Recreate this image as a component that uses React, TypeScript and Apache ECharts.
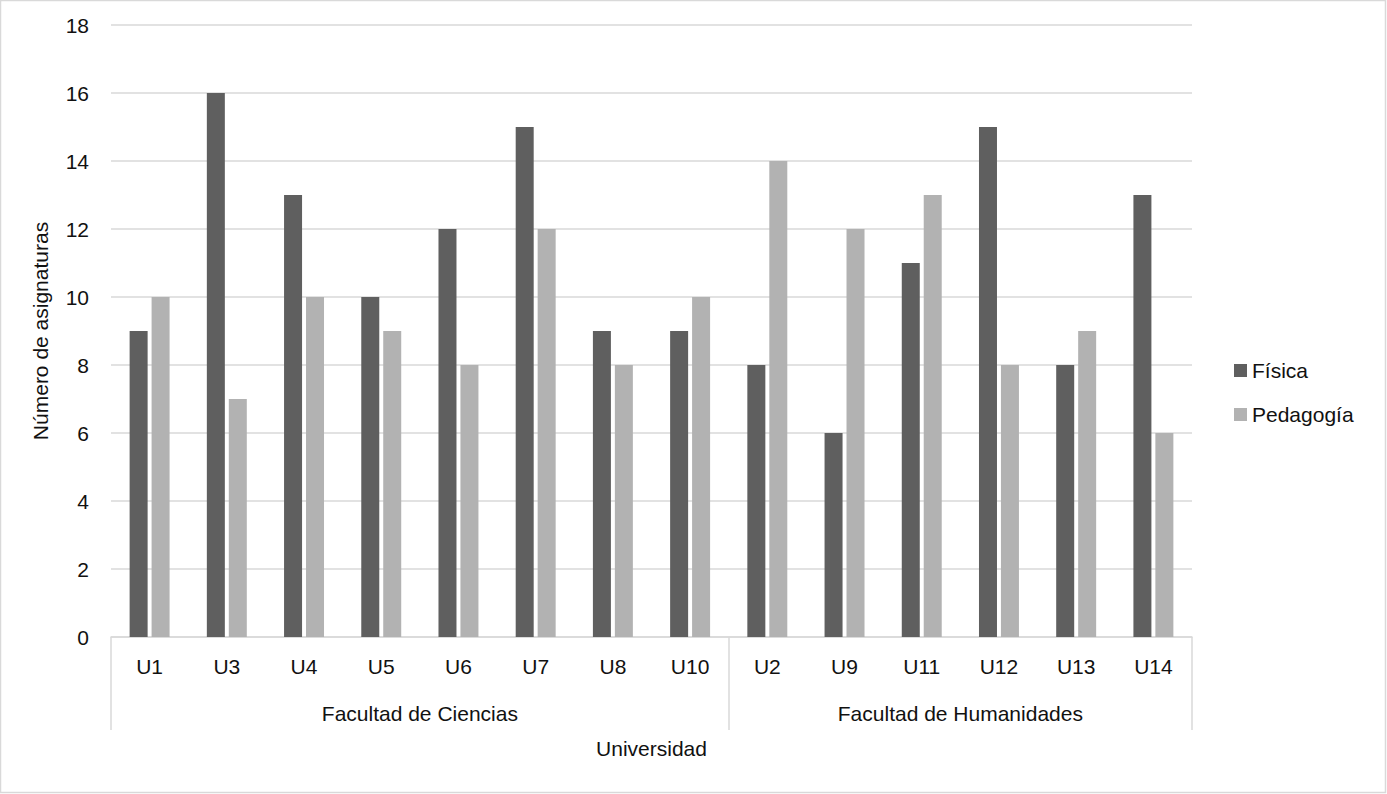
import React, { useEffect, useRef } from "react";
import * as echarts from "echarts";

const universidades = ["U1", "U3", "U4", "U5", "U6", "U7", "U8", "U10", "U2", "U9", "U11", "U12", "U13", "U14"];
const fisica = [9, 16, 13, 10, 12, 15, 9, 9, 8, 6, 11, 15, 8, 13];
const pedagogia = [10, 7, 10, 9, 8, 12, 8, 10, 14, 12, 13, 8, 9, 6];
const facultades = ["Facultad de Ciencias", "Facultad de Humanidades"];
const facultadSizes = [8, 6];

const FONT = "Liberation Sans";
const TXT = "#111111";
const GRID = "#d9d9d9";

export default function App() {
  const ref = useRef<HTMLDivElement>(null);
  useEffect(() => {
    document.body.style.margin = "0";
    if (!ref.current) return;
    const chart = echarts.init(ref.current, undefined, { renderer: "svg" });
    const bounds: number[] = [0];
    facultadSizes.forEach((s) => bounds.push(bounds[bounds.length - 1] + s));
    const centers = facultadSizes.map((s, i) => bounds[i] + s / 2);
    const total = universidades.length;

    chart.setOption({
      animation: false,
      textStyle: { fontFamily: FONT },
      graphic: [
        {
          type: "rect",
          shape: { x: 0.5, y: 0.5, width: 1385, height: 792 },
          style: { fill: "none", stroke: GRID, lineWidth: 1.5 },
        },
      ],
      legend: {
        orient: "vertical",
        left: 1229,
        top: 355,
        itemWidth: 13,
        itemHeight: 13,
        itemGap: 23,
        icon: "rect",
        textStyle: { fontFamily: FONT, fontSize: 21, color: TXT },
        data: ["Física", "Pedagogía"],
      },
      grid: { left: 111, right: 195, top: 25, bottom: 157, containLabel: false },
      xAxis: [
        {
          type: "category",
          data: universidades,
          axisLine: { show: true, lineStyle: { color: GRID, width: 1.5 } },
          axisTick: { show: false },
          axisLabel: { fontSize: 21, color: TXT, margin: 19, fontFamily: FONT },
        },
        {
          type: "value",
          position: "bottom",
          min: 0,
          max: total,
          splitLine: { show: false },
          axisLine: { show: false },
          axisTick: {
            show: true,
            customValues: bounds,
            length: 93,
            lineStyle: { color: GRID, width: 1.5 },
          },
          axisLabel: {
            show: true,
            customValues: centers,
            margin: 66,
            fontSize: 21,
            color: TXT,
            fontFamily: FONT,
            formatter: (v: number) => {
              const i = centers.findIndex((c) => Math.abs(c - v) < 1e-6);
              return i >= 0 ? facultades[i] : "";
            },
          },
          name: "Universidad",
          nameLocation: "middle",
          nameGap: 101,
          nameTextStyle: { fontSize: 21, color: TXT, fontFamily: FONT },
        },
      ],
      yAxis: {
        type: "value",
        min: 0,
        max: 18,
        interval: 2,
        axisLine: { show: false },
        axisTick: { show: false },
        splitLine: { lineStyle: { color: GRID, width: 1.5 } },
        axisLabel: { fontSize: 21, color: TXT, margin: 22, fontFamily: FONT },
        name: "Número de asignaturas",
        nameLocation: "middle",
        nameGap: 60,
        nameRotate: 90,
        nameTextStyle: { fontSize: 21, color: TXT, fontFamily: FONT },
      },
      series: [
        {
          name: "Física",
          type: "bar",
          data: fisica,
          barWidth: 18,
          barGap: "22%",
          itemStyle: { color: "#5f5f5f" },
        },
        {
          name: "Pedagogía",
          type: "bar",
          data: pedagogia,
          barWidth: 18,
          barGap: "22%",
          itemStyle: { color: "#b2b2b2" },
        },
      ],
    });
    return () => chart.dispose();
  }, []);
  return <div ref={ref} style={{ width: 1387, height: 794 }} />;
}
